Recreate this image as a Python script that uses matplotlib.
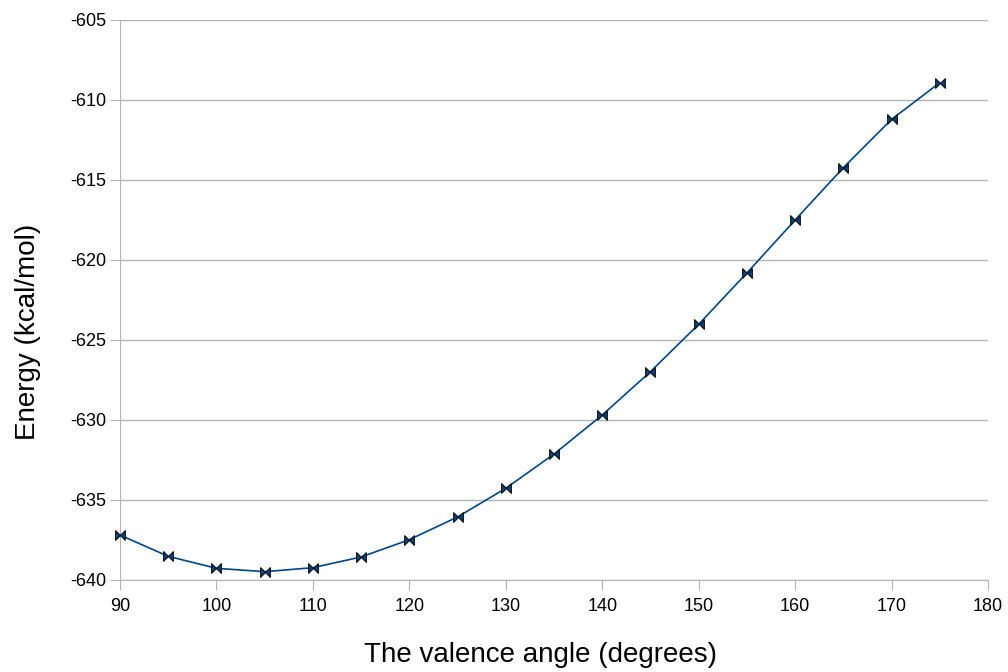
import numpy as np
import matplotlib.pyplot as plt
from matplotlib.path import Path

plt.rcParams['font.family'] = ['Liberation Sans', 'DejaVu Sans']
plt.rcParams['axes.unicode_minus'] = False

angle = [90, 95, 100, 105, 110, 115, 120, 125, 130, 135, 140, 145, 150, 155, 160, 165, 170, 175]
energy = [-637.19, -638.52, -639.27, -639.48, -639.23, -638.56, -637.48, -636.06, -634.27,
          -632.13, -629.69, -626.98, -624.02, -620.81, -617.5, -614.23, -611.21, -608.92]

# bowtie marker: two triangles meeting at the centre
bowtie = Path([(-1, -1), (-1, 1), (0, 0), (-1, -1),
               (1, -1), (1, 1), (0, 0), (1, -1)],
              [Path.MOVETO, Path.LINETO, Path.LINETO, Path.CLOSEPOLY,
               Path.MOVETO, Path.LINETO, Path.LINETO, Path.CLOSEPOLY])

fig = plt.figure(figsize=(10.08, 6.72), dpi=100)
ax = fig.add_axes([120/1008, 92/672, 868/1008, 560/672])

ax.plot(angle, energy, color='#004586', lw=1.2, marker=bowtie, markersize=7,
        markerfacecolor='#004586', markeredgecolor='#111111', markeredgewidth=0.8,
        clip_on=False, zorder=3)

ax.set_xlim(90, 180)
ax.set_ylim(-640, -605)
ax.set_xticks(np.arange(90, 181, 10))
ax.set_yticks(np.arange(-640, -604, 5))
ax.yaxis.grid(True, color='#b3b3b3', lw=1)
ax.set_axisbelow(True)
for s in ['top', 'right']:
    ax.spines[s].set_visible(False)
for s in ['left', 'bottom']:
    ax.spines[s].set_color('#b3b3b3')
ax.tick_params(axis='both', colors='#b3b3b3', labelcolor='black', labelsize=13, length=7, pad=3)
ax.tick_params(axis='x', pad=6)

ax.set_xlabel('The valence angle (degrees)', fontsize=20, va='center')
ax.set_ylabel('Energy (kcal/mol)', fontsize=20, va='center')
ax.xaxis.set_label_coords(0.485, -0.134)
ax.yaxis.set_label_coords(-0.106, 0.443)

fig.savefig('out.png', dpi=100)
